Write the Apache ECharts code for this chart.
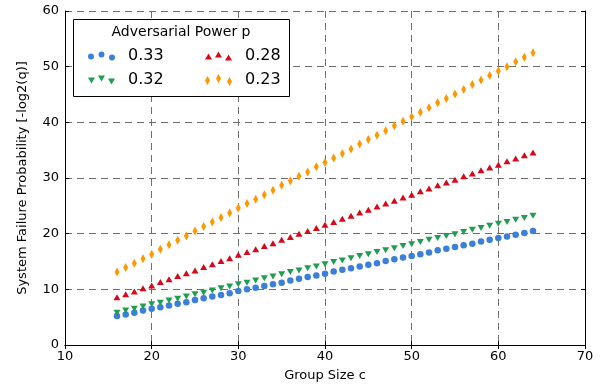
<!DOCTYPE html>
<html>
<head>
<meta charset="utf-8">
<script src="https://cdn.jsdelivr.net/npm/echarts@6/dist/echarts.min.js"></script>
<style>
  html, body { margin: 0; padding: 0; background: #fff; }
  #chart { width: 611px; height: 390px; }
</style>
</head>
<body>
<div id="chart"></div>
<script>
// group sizes c
const groupSizes = [16, 17, 18, 19, 20, 21, 22, 23, 24, 25, 26, 27, 28, 29, 30, 31, 32, 33, 34, 35,
  36, 37, 38, 39, 40, 41, 42, 43, 44, 45, 46, 47, 48, 49, 50, 51, 52, 53, 54, 55,
  56, 57, 58, 59, 60, 61, 62, 63, 64];

// -log2(q) per adversarial power p
const p033 = [5.2, 5.5, 5.8, 6.2, 6.5, 6.8, 7.1, 7.4, 7.7, 8.1, 8.4, 8.7, 9.0, 9.3, 9.7, 10.0, 10.3, 10.6, 10.9, 11.2,
  11.6, 11.9, 12.2, 12.5, 12.8, 13.2, 13.5, 13.8, 14.1, 14.4, 14.7, 15.1, 15.4, 15.7, 16.0, 16.3, 16.6, 17.0, 17.3, 17.6,
  17.9, 18.2, 18.6, 18.9, 19.2, 19.5, 19.8, 20.1, 20.5];
const p032 = [5.8, 6.2, 6.5, 6.9, 7.3, 7.6, 8.0, 8.3, 8.7, 9.1, 9.4, 9.8, 10.2, 10.5, 10.9, 11.2, 11.6, 12.0, 12.3, 12.7,
  13.1, 13.4, 13.8, 14.1, 14.5, 14.9, 15.2, 15.6, 16.0, 16.3, 16.7, 17.0, 17.4, 17.8, 18.1, 18.5, 18.9, 19.2, 19.6, 19.9,
  20.3, 20.7, 21.0, 21.4, 21.8, 22.1, 22.5, 22.8, 23.2];
const p028 = [8.6, 9.1, 9.6, 10.2, 10.7, 11.3, 11.8, 12.4, 12.9, 13.4, 14.0, 14.5, 15.1, 15.6, 16.2, 16.7, 17.2, 17.8, 18.3, 18.9,
  19.4, 20.0, 20.5, 21.0, 21.6, 22.1, 22.7, 23.2, 23.8, 24.3, 24.9, 25.4, 25.9, 26.5, 27.0, 27.6, 28.1, 28.7, 29.2, 29.7,
  30.3, 30.8, 31.4, 31.9, 32.4, 33.0, 33.5, 34.1, 34.6];
const p023 = [13.1, 13.9, 14.7, 15.5, 16.3, 17.2, 18.0, 18.8, 19.6, 20.5, 21.3, 22.1, 22.9, 23.7, 24.6, 25.4, 26.2, 27.0, 27.8, 28.7,
  29.5, 30.3, 31.1, 32.0, 32.8, 33.6, 34.4, 35.2, 36.1, 36.9, 37.7, 38.5, 39.4, 40.2, 41.0, 41.8, 42.6, 43.5, 44.3, 45.1,
  45.9, 46.8, 47.6, 48.4, 49.2, 50.0, 50.9, 51.7, 52.5];

const FONT = "DejaVu Sans";

// legend icons: three markers, matplotlib scatter style
const ICON_CIRCLE = "path://M0 5a3 3 0 1 0 6 0a3 3 0 1 0 -6 0ZM10.5 3a3 3 0 1 0 6 0a3 3 0 1 0 -6 0ZM21 6a3 3 0 1 0 6 0a3 3 0 1 0 -6 0Z";
const ICON_DOWN = "path://M0 2L7 2L3.5 8ZM10 0L17 0L13.5 6ZM20 3L27 3L23.5 9Z";
const ICON_UP = "path://M0 8L7 8L3.5 2ZM10 6L17 6L13.5 0ZM20 9L27 9L23.5 3Z";
const ICON_DIAMOND = "path://M2.5 2L5 6.5L2.5 11L0 6.5ZM13.5 0L16 4.5L13.5 9L11 4.5ZM24.5 3L27 7.5L24.5 12L22 7.5Z";

const pairs = (vals) => groupSizes.map((c, i) => [c, vals[i]]);

const chart = echarts.init(document.getElementById("chart"), null, { renderer: "canvas" });

const gridDash = { color: "#707070", type: [7, 5], width: 1 };
const legendBase = {
  orient: "vertical",
  top: 43,
  itemWidth: 27,
  itemHeight: 12,
  itemGap: 8,
  textStyle: { fontFamily: FONT, fontSize: 16, color: "#000", padding: [0, 0, 0, 8] },
  selectedMode: false,
  z: 5,
};

chart.setOption({
  animation: false,
  backgroundColor: "#fff",
  textStyle: { fontFamily: FONT },
  grid: { left: 65, right: 26, top: 11, bottom: 45 },
  xAxis: [
    {
      type: "value", min: 10, max: 70, interval: 10,
      name: "Group Size c", nameLocation: "middle", nameGap: 24,
      nameTextStyle: { fontFamily: FONT, fontSize: 13, color: "#000" },
      axisLine: { lineStyle: { color: "#000", width: 1 } },
      axisTick: { inside: true, length: 4, lineStyle: { color: "#000" } },
      axisLabel: { fontFamily: FONT, fontSize: 13, color: "#000", margin: 5 },
      splitLine: { show: true, lineStyle: gridDash },
    },
    {
      type: "value", min: 10, max: 70, interval: 10, position: "top",
      axisLine: { lineStyle: { color: "#000", width: 1 } },
      axisTick: { inside: true, length: 4, lineStyle: { color: "#000" } },
      axisLabel: { show: false },
      splitLine: { show: false },
    },
  ],
  yAxis: [
    {
      type: "value", min: 0, max: 60, interval: 10,
      name: "System Failure Probability [-log2(q)]", nameLocation: "middle", nameGap: 36,
      nameTextStyle: { fontFamily: FONT, fontSize: 13, color: "#000" },
      axisLine: { show: true, lineStyle: { color: "#000", width: 1 } },
      axisTick: { show: true, inside: true, length: 4, lineStyle: { color: "#000" } },
      axisLabel: { fontFamily: FONT, fontSize: 13, color: "#000", margin: 6 },
      splitLine: { show: true, lineStyle: gridDash },
    },
    {
      type: "value", min: 0, max: 60, interval: 10, position: "right",
      axisLine: { show: true, lineStyle: { color: "#000", width: 1 } },
      axisTick: { show: true, inside: true, length: 4, lineStyle: { color: "#000" } },
      axisLabel: { show: false },
      splitLine: { show: false },
    },
  ],
  graphic: [
    {
      type: "rect", z: 3,
      shape: { x: 73.5, y: 19.5, width: 216, height: 77 },
      style: { fill: "#fff", stroke: "#000", lineWidth: 1 },
    },
    {
      type: "text", z: 4, x: 181, y: 32,
      style: { text: "Adversarial Power p", fontFamily: FONT, fontSize: 14, fill: "#000", align: "center", verticalAlign: "middle" },
    },
  ],
  legend: [
    Object.assign({}, legendBase, {
      left: 83,
      data: [{ name: "0.33", icon: ICON_CIRCLE }, { name: "0.32", icon: ICON_DOWN }],
    }),
    Object.assign({}, legendBase, {
      left: 200,
      data: [{ name: "0.28", icon: ICON_UP }, { name: "0.23", icon: ICON_DIAMOND }],
    }),
  ],
  series: [
    {
      name: "0.33", type: "scatter", data: pairs(p033),
      symbol: "circle", symbolSize: 6.5,
      itemStyle: { color: "#3b7fdb", opacity: 1 },
    },
    {
      name: "0.32", type: "scatter", data: pairs(p032),
      symbol: "triangle", symbolRotate: 180, symbolSize: [7, 6],
      itemStyle: { color: "#1f9e4f", opacity: 1 },
    },
    {
      name: "0.28", type: "scatter", data: pairs(p028),
      symbol: "triangle", symbolSize: [7, 6],
      itemStyle: { color: "#d6091b", opacity: 1 },
    },
    {
      name: "0.23", type: "scatter", data: pairs(p023),
      symbol: "diamond", symbolSize: [5, 9],
      itemStyle: { color: "#ff9800", opacity: 1 },
    },
  ],
});
</script>
</body>
</html>
